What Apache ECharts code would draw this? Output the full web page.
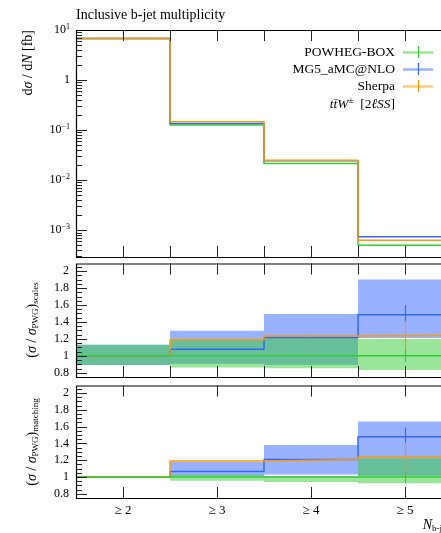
<!DOCTYPE html>
<html><head><meta charset="utf-8">
<script src="https://cdn.jsdelivr.net/npm/echarts@6/dist/echarts.min.js"></script>
<style>html,body{margin:0;padding:0;background:#fff}#c{width:441px;height:533px}</style>
</head><body><div id="c"></div>
<script>
// ---- data ----
const binEdges = [1.5, 2.5, 3.5, 4.5, 5.5];
const binCenters = [2, 3, 4, 5];
const binLabels = ['≥ 2', '≥ 3', '≥ 4', '≥ 5'];

// main panel dσ/dN [fb]
const xsPowheg = [6.8, 0.126, 0.0216, 0.00050];
const xsMG5    = [6.8, 0.136, 0.0244, 0.00074];
const xsSherpa = [6.8, 0.147, 0.0251, 0.00063];

// ratio panel: scales
const scPowheg = [1, 1, 1, 1];
const scMG5    = [1, 1.079, 1.215, 1.486];
const scSherpa = [1, 1.19, 1.235, 1.24];
const scBandPowhegLo = [0.893, 0.861, 0.854, 0.834];
const scBandPowhegHi = [1.13, 1.19, 1.21, 1.20];
const scBandMG5Lo    = [0.893, 0.905, 0.893, 1.21];
const scBandMG5Hi    = [1.13, 1.297, 1.495, 1.90];
const scErrPowheg = [[5, 0.93, 1.07]];
const scErrMG5    = [[5, 1.39, 1.60]];
const scErrSherpa = [[4, 1.22, 1.25], [5, 1.07, 1.41]];

// ratio panel: matching
const mtPowheg = [1, 1, 1, 1];
const mtMG5    = [1, 1.067, 1.21, 1.48];
const mtSherpa = [1, 1.19, 1.21, 1.237];
const mtBandPowhegLo = [1, 0.955, 0.94, 0.925];
const mtBandPowhegHi = [1, 1.03, 1.01, 1.22];
const mtBandMG5Lo    = [1, 1.015, 1.03, 1.015];
const mtBandMG5Hi    = [1, 1.18, 1.38, 1.66];
const mtErrPowheg = [[5, 0.925, 1.07]];
const mtErrMG5    = [[5, 1.25, 1.59]];
const mtErrSherpa = [[5, 0.99, 1.41]];

// ticks
const mainYMajor = [0.001, 0.01, 0.1, 1];
const ratioYMajor = [0.8, 1.0, 1.2, 1.4, 1.6, 1.8, 2.0];
const xTicksHalf = [2, 2.5, 3, 3.5, 4, 4.5, 5];
const xTicksCenter = [2, 3, 4, 5];

// ---- style ----
const GREEN = '#33cc33', BLUE = '#3366ff', ORANGE = '#ff9900';
const GREEN_A = 'rgba(51,204,51,0.5)', BLUE_A = 'rgba(51,102,255,0.5)', ORANGE_A = 'rgba(255,153,0,0.5)';
const FONT = '"Liberation Serif", "DejaVu Serif", serif';
const MAIN_MIN = 2.92e-4, MAIN_MAX = 10;
const R_MIN = 0.75, R_MAX = 2.09;
const PLOT_W = 376;

function stepData(vals) {
  const d = vals.map((v, i) => [binEdges[i], v]);
  d.push([binEdges[vals.length], vals[vals.length - 1]]);
  return d;
}
function bandData(lo, hi) {
  return lo.map((l, i) => [binEdges[i], binEdges[i + 1], l, hi[i]]);
}
function bandRender(color) {
  return function (params, api) {
    const p0 = api.coord([api.value(0), api.value(3)]);
    const p1 = api.coord([api.value(1), api.value(2)]);
    return { type: 'rect', shape: { x: p0[0], y: p0[1], width: p1[0] - p0[0], height: p1[1] - p0[1] },
      style: { fill: color } };
  };
}
function errRender(color) {
  return function (params, api) {
    const a = api.coord([api.value(0), api.value(1)]);
    const b = api.coord([api.value(0), api.value(2)]);
    const x = Math.round(a[0]) + 0.5;
    return { type: 'line', shape: { x1: x, y1: a[1], x2: x, y2: b[1] }, style: { stroke: color, lineWidth: 1.2 } };
  };
}
function tickRender(params, api) {
  const cs = params.coordSys;
  const kind = api.value(2), len = api.value(3);
  const st = { stroke: '#222', lineWidth: 1 };
  if (kind === 2) {
    return { type: 'rect', shape: { x: cs.x + 0.5, y: cs.y + 0.5, width: cs.width, height: cs.height },
      style: { stroke: '#000', fill: null, lineWidth: 1.2 } };
  }
  const p = api.coord([api.value(0), api.value(1)]);
  if (kind === 0) {
    const x = Math.round(p[0]) + 0.5;
    return { type: 'group', children: [
      { type: 'line', shape: { x1: x, y1: cs.y, x2: x, y2: cs.y + len }, style: st },
      { type: 'line', shape: { x1: x, y1: cs.y + cs.height, x2: x, y2: cs.y + cs.height - len }, style: st }] };
  }
  const y = Math.round(p[1]) + 0.5;
  return { type: 'group', children: [
    { type: 'line', shape: { x1: cs.x, y1: y, x2: cs.x + len, y2: y }, style: st },
    { type: 'line', shape: { x1: cs.x + cs.width, y1: y, x2: cs.x + cs.width - len, y2: y }, style: st }] };
}
function tickSeries(gi, xt, yMajor, yMinor, anyY) {
  const d = [];
  xt.forEach(v => d.push([v, anyY, 0, 11]));
  yMajor.forEach(v => d.push([2, v, 1, 11]));
  yMinor.forEach(v => d.push([2, v, 1, 6]));
  d.push([2, anyY, 2, 0]);
  return { type: 'custom', xAxisIndex: gi, yAxisIndex: gi, data: d, renderItem: tickRender, z: 20,
    silent: true, clip: false, encode: { x: 0, y: 1 } };
}
// minor ticks
const mainYMinor = [];
[-4, -3, -2, -1, 0].forEach(k => { for (let m = 2; m <= 9; m++) { const v = m * Math.pow(10, k); if (v > MAIN_MIN && v < MAIN_MAX) mainYMinor.push(v); } });
const ratioYMinor = [];
for (let k = 15; k <= 41; k++) { if (k % 4 !== 0) ratioYMinor.push(k * 0.05); }

function lineS(gi, vals, color, z, w) {
  return { type: 'line', xAxisIndex: gi, yAxisIndex: gi, step: 'end', data: stepData(vals), showSymbol: false,
    lineStyle: { color: color, width: w || 1.5 }, itemStyle: { color: color }, z: z, silent: true, animation: false };
}
function bandS(gi, lo, hi, color, z) {
  return { type: 'custom', xAxisIndex: gi, yAxisIndex: gi, data: bandData(lo, hi), renderItem: bandRender(color),
    encode: { x: [0, 1], y: [2, 3] }, z: z, silent: true };
}
function errS(gi, d, color, z) {
  return { type: 'custom', xAxisIndex: gi, yAxisIndex: gi, data: d, renderItem: errRender(color),
    encode: { x: 0, y: [1, 2] }, z: z, silent: true };
}

const supRich = { b: { fontSize: 12, fontFamily: FONT, color: '#000', lineHeight: 14 },
  sup: { fontSize: 8, fontFamily: FONT, color: '#000', lineHeight: 8, verticalAlign: 'top' } };

const xAxisBase = { type: 'value', min: 1.5, max: 5.5, interval: 0.5, axisLine: { show: false }, axisTick: { show: false },
  splitLine: { show: false } };

const option = {
  animation: false,
  backgroundColor: '#fff',
  grid: [
    { left: 76, width: PLOT_W, top: 30, height: 227, outerBoundsMode: 'none', containLabel: false },
    { left: 76, width: PLOT_W, top: 263.5, height: 113.5, outerBoundsMode: 'none', containLabel: false },
    { left: 76, width: PLOT_W, top: 385.5, height: 112.5, outerBoundsMode: 'none', containLabel: false }
  ],
  xAxis: [
    Object.assign({ gridIndex: 0, axisLabel: { show: false } }, xAxisBase),
    Object.assign({ gridIndex: 1, axisLabel: { show: false } }, xAxisBase),
    Object.assign({ gridIndex: 2, axisLabel: { show: true, margin: 6, fontFamily: FONT, fontSize: 13, color: '#000',
      formatter: v => { const i = binCenters.indexOf(v); return i >= 0 ? binLabels[i] : ''; } } }, xAxisBase)
  ],
  yAxis: [
    { gridIndex: 0, type: 'log', min: MAIN_MIN, max: MAIN_MAX, logBase: 10, axisLine: { show: false }, axisTick: { show: false },
      splitLine: { show: false },
      axisLabel: { showMinLabel: false, margin: 6, rich: supRich,
        formatter: v => { const k = Math.round(Math.log10(v)); if (Math.abs(Math.log10(v) - k) > 1e-6) return '';
          if (k === 0) return '{b|1}'; return '{b|10}{sup|' + (k < 0 ? '−' + (-k) : k) + '}'; } } },
    { gridIndex: 1, type: 'value', min: R_MIN, max: R_MAX, interval: 0.05, axisLine: { show: false }, axisTick: { show: false },
      splitLine: { show: false },
      axisLabel: { margin: 7, fontFamily: FONT, fontSize: 12, color: '#000',
        formatter: v => { const k = Math.round(v * 100); return (k % 20 === 0 && k >= 80 && k <= 200) ? String(k / 100) : ''; } } },
    { gridIndex: 2, type: 'value', min: R_MIN, max: R_MAX, interval: 0.05, axisLine: { show: false }, axisTick: { show: false },
      splitLine: { show: false },
      axisLabel: { margin: 7, fontFamily: FONT, fontSize: 12, color: '#000',
        formatter: v => { const k = Math.round(v * 100); return (k % 20 === 0 && k >= 80 && k <= 200) ? String(k / 100) : ''; } } }
  ],
  series: [
    // main
    lineS(0, xsPowheg, GREEN, 3), lineS(0, xsMG5, BLUE, 4), lineS(0, xsSherpa, ORANGE, 5),
    // scales
    bandS(1, scBandMG5Lo, scBandMG5Hi, BLUE_A, 1), bandS(1, scBandPowhegLo, scBandPowhegHi, GREEN_A, 2),
    lineS(1, scMG5, BLUE, 4), lineS(1, scSherpa, ORANGE, 5), lineS(1, scPowheg, GREEN, 6),
    errS(1, scErrMG5, BLUE, 7), errS(1, scErrSherpa, ORANGE, 7), errS(1, scErrPowheg, GREEN, 7),
    // matching
    bandS(2, mtBandMG5Lo, mtBandMG5Hi, BLUE_A, 1), bandS(2, mtBandPowhegLo, mtBandPowhegHi, GREEN_A, 2),
    lineS(2, mtMG5, BLUE, 4), lineS(2, mtSherpa, ORANGE, 5), lineS(2, mtPowheg, GREEN, 6),
    errS(2, mtErrMG5, BLUE, 7), errS(2, mtErrSherpa, ORANGE, 7), errS(2, mtErrPowheg, GREEN, 7),
    // ticks + frames
    tickSeries(0, xTicksHalf, mainYMajor, mainYMinor, 1),
    tickSeries(1, xTicksHalf, ratioYMajor, ratioYMinor, 1),
    tickSeries(2, xTicksCenter, ratioYMajor, ratioYMinor, 1)
  ],
  graphic: [
    { type: 'text', x: 76, y: 15, style: { text: 'Inclusive b-jet multiplicity', font: '14px ' + FONT, fill: '#000',
      align: 'left', verticalAlign: 'middle', textAlign: 'left', textVerticalAlign: 'middle' } },
    // y names
    { type: 'text', x: 28, y: 30, rotation: Math.PI / 2, style: {
      text: '{n|d}{i|σ}{n| / d}{i|N}{n| [fb]}', align: 'right', verticalAlign: 'middle', textAlign: 'right', textVerticalAlign: 'middle',
      rich: { n: { font: '14px ' + FONT, fill: '#000' }, i: { font: 'italic 14px ' + FONT, fill: '#000' } } } },
    { type: 'text', x: 32, y: 320, rotation: Math.PI / 2, style: {
      text: '{n|(}{i|σ}{n| / }{i|σ}{s|PWG}{n|)}{s|scales}', align: 'center', verticalAlign: 'middle', textAlign: 'center', textVerticalAlign: 'middle',
      rich: { n: { font: '14px ' + FONT, fill: '#000', lineHeight: 16 }, i: { font: 'italic 14px ' + FONT, fill: '#000', lineHeight: 16 },
        s: { font: '9px ' + FONT, fill: '#000', lineHeight: 8, verticalAlign: 'bottom' } } } },
    { type: 'text', x: 32, y: 442, rotation: Math.PI / 2, style: {
      text: '{n|(}{i|σ}{n| / }{i|σ}{s|PWG}{n|)}{s|matching}', align: 'center', verticalAlign: 'middle', textAlign: 'center', textVerticalAlign: 'middle',
      rich: { n: { font: '14px ' + FONT, fill: '#000', lineHeight: 16 }, i: { font: 'italic 14px ' + FONT, fill: '#000', lineHeight: 16 },
        s: { font: '9px ' + FONT, fill: '#000', lineHeight: 8, verticalAlign: 'bottom' } } } },
    // x name
    { type: 'text', x: 452, y: 525, style: {
      text: '{i|N}{s|b-jets}', align: 'right', verticalAlign: 'middle', textAlign: 'right', textVerticalAlign: 'middle',
      rich: { i: { font: 'italic 14px ' + FONT, fill: '#000', lineHeight: 16 }, s: { font: '9px ' + FONT, fill: '#000', lineHeight: 8, verticalAlign: 'bottom' } } } },
    // legend
    ...[['POWHEG-BOX', 52, GREEN, GREEN_A], ['MG5_aMC@NLO', 69, BLUE, BLUE_A], ['Sherpa', 86, ORANGE, ORANGE_A]].flatMap(e => [
      { type: 'text', x: 395, y: e[1], style: { text: e[0], font: '13.5px ' + FONT, fill: '#000', align: 'right', verticalAlign: 'middle',
        textAlign: 'right', textVerticalAlign: 'middle' } },
      { type: 'line', shape: { x1: 403, y1: e[1] + 0.5, x2: 433, y2: e[1] + 0.5 }, style: { stroke: e[3], lineWidth: 2.5 } },
      { type: 'line', shape: { x1: 418.5, y1: e[1] - 6, x2: 418.5, y2: e[1] + 6 }, style: { stroke: e[2], lineWidth: 1.2 } }
    ]),
    { type: 'text', x: 395, y: 104, style: {
      text: '{i|tt̄W}{sup|±}{n|  [2}{i|ℓSS}{n|]}', align: 'right', verticalAlign: 'middle', textAlign: 'right', textVerticalAlign: 'middle',
      rich: { n: { font: '13.5px ' + FONT, fill: '#000', lineHeight: 16 }, i: { font: 'italic 13.5px ' + FONT, fill: '#000', lineHeight: 16 },
        sup: { font: '9px ' + FONT, fill: '#000', lineHeight: 8, verticalAlign: 'top' } } } }
  ]
};
const chart = echarts.init(document.getElementById('c'), null, { renderer: 'canvas' });
chart.setOption(option);
</script></body></html>
